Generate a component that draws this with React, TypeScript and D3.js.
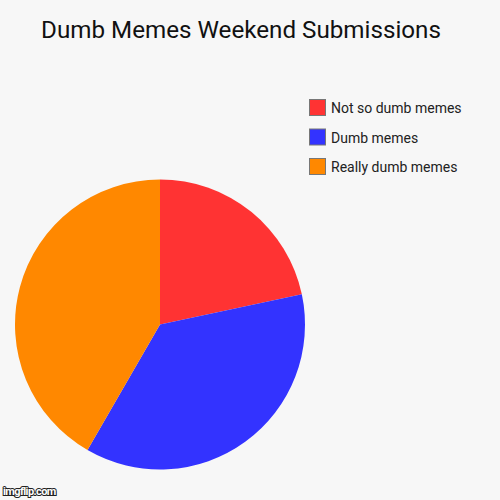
import React, { useEffect, useRef } from 'react';
import * as d3 from 'd3';

const categories = ['Not so dumb memes', 'Dumb memes', 'Really dumb memes'];
const values = [13, 22, 25];
const colors = ['#ff3333', '#3333ff', '#ff8800'];
const title = 'Dumb Memes Weekend Submissions';

export default function App() {
  const svgRef = useRef<SVGSVGElement>(null);

  useEffect(() => {
    if (!svgRef.current) return;
    const svg = d3.select(svgRef.current);
    svg.selectAll('*').remove();

    const width = 500;
    const height = 500;
    const font = 'Roboto, sans-serif';

    svg.append('rect')
      .attr('width', width)
      .attr('height', height)
      .attr('fill', '#f7f7f7');

    // Title
    svg.append('text')
      .attr('x', 241)
      .attr('y', 38)
      .attr('text-anchor', 'middle')
      .style('font-family', font)
      .style('font-size', '24.2px')
      .attr('fill', '#111')
      .text(title);

    // Pie
    const radius = 145;
    const pie = d3.pie<number>().sort(null).value((d: number) => d);
    const arc = d3.arc<d3.PieArcDatum<number>>().innerRadius(0).outerRadius(radius);
    const color = d3.scaleOrdinal<number, string>().domain(d3.range(values.length)).range(colors);

    const g = svg.append('g').attr('transform', 'translate(160,324.5)');
    g.selectAll('path')
      .data(pie(values))
      .enter()
      .append('path')
      .attr('d', arc)
      .attr('fill', (_d: d3.PieArcDatum<number>, i: number) => color(i));

    // Legend
    const legendY = d3.scaleLinear().domain([0, 1]).range([99, 128.5]);
    const legend = svg.append('g');
    const items = legend.selectAll('g')
      .data(categories)
      .enter()
      .append('g')
      .attr('transform', (_d: string, i: number) => `translate(309,${legendY(i)})`);

    items.append('rect')
      .attr('x', 0.5)
      .attr('y', 0.5)
      .attr('width', 16)
      .attr('height', 16)
      .attr('fill', (_d: string, i: number) => color(i))
      .attr('stroke', '#777')
      .attr('stroke-width', 1);

    items.append('text')
      .attr('x', 22)
      .attr('y', 14)
      .style('font-family', font)
      .style('font-size', '14px')
      .attr('fill', '#222')
      .text((d: string) => d);

    // watermark
    svg.append('text')
      .attr('x', 3)
      .attr('y', 495)
      .style('font-family', 'Roboto, sans-serif')
      .style('font-size', '11px')
      .style('font-weight', 'bold')
      .style('letter-spacing', '-0.6px')
      .attr('fill', '#fff')
      .attr('stroke', '#222')
      .attr('stroke-width', 2)
      .attr('paint-order', 'stroke')
      .text('imgflip.com');
  }, []);

  return (
    <div style={{ position: 'fixed', left: 0, top: 0 }}>
      <svg ref={svgRef} width="500" height="500" style={{ display: 'block' }} />
    </div>
  );
}
